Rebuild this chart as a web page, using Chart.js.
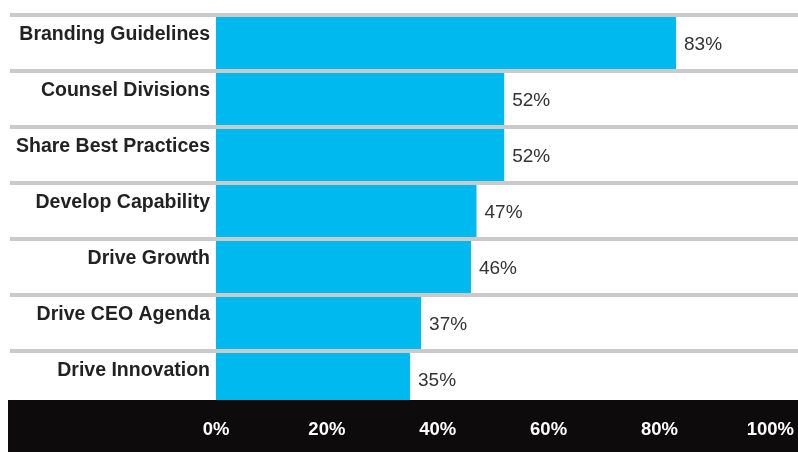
<!DOCTYPE html>
<html>
<head>
<meta charset="utf-8">
<script src="https://cdn.jsdelivr.net/npm/chart.js@4.4.0/dist/chart.umd.min.js"></script>
<style>
  html, body { margin: 0; padding: 0; background: #fff; }
  #wrap { width: 798px; height: 452px; }
</style>
</head>
<body>
<div id="wrap"><canvas id="chart" width="798" height="452"></canvas></div>
<script>
const categories = [
  "Branding Guidelines",
  "Counsel Divisions",
  "Share Best Practices",
  "Develop Capability",
  "Drive Growth",
  "Drive CEO Agenda",
  "Drive Innovation"
];
const shares = [83, 52, 52, 47, 46, 37, 35];
const xTicks = [0, 20, 40, 60, 80, 100];

const barColor = "#00b9ef";
const gridColor = "#cacaca";

// black footer band + value labels, drawn after the bars
const footerAndLabels = {
  id: "footerAndLabels",
  afterDatasetsDraw(chart) {
    const ctx = chart.ctx;
    const area = chart.chartArea;
    const yScale = chart.scales.y;
    ctx.save();
    ctx.fillStyle = "#0d0b0c";
    ctx.fillRect(yScale.left - 2, area.bottom - 7, chart.width, chart.height - area.bottom + 7);

    ctx.fillStyle = "#333";
    ctx.font = "19px 'Liberation Sans', Arial, sans-serif";
    ctx.textAlign = "left";
    ctx.textBaseline = "middle";
    const meta = chart.getDatasetMeta(0);
    meta.data.forEach((bar, i) => {
      ctx.fillText(shares[i] + "%", bar.x + 8, bar.y + 2);
    });
    ctx.restore();
  }
};

new Chart(document.getElementById("chart"), {
  type: "bar",
  data: {
    labels: categories,
    datasets: [{
      data: shares,
      backgroundColor: barColor,
      borderWidth: 0,
      barPercentage: 1,
      categoryPercentage: 0.93
    }]
  },
  options: {
    indexAxis: "y",
    responsive: false,
    animation: false,
    layout: { padding: { top: 15, left: 10, right: 0, bottom: 0 } },
    plugins: {
      legend: { display: false },
      tooltip: { enabled: false },
      title: { display: false }
    },
    scales: {
      x: {
        min: 0,
        max: 105,
        grid: { display: false, drawTicks: false },
        border: { display: false },
        afterBuildTicks: (s) => {
          s.ticks = xTicks.map((v) => ({ value: v }));
        },
        afterFit: (s) => {
          s.height = 45;
          s.paddingLeft = 0;
          s.paddingRight = 0;
        },
        ticks: {
          z: 1,
          padding: 12,
          color: "#fff",
          font: { family: "'Liberation Sans', Arial, sans-serif", size: 18.5, weight: "bold" },
          callback: (v) => v + "%"
        }
      },
      y: {
        grid: {
          offset: true,
          color: gridColor,
          lineWidth: 4,
          drawTicks: true,
          tickLength: 206
        },
        border: { display: false },
        afterFit: (s) => { s.width = 206; },
        ticks: {
          padding: -200,
          labelOffset: -8,
          color: "#222",
          font: { family: "'Liberation Sans', Arial, sans-serif", size: 19.5, weight: "bold" }
        }
      }
    }
  },
  plugins: [footerAndLabels]
});
</script>
</body>
</html>
